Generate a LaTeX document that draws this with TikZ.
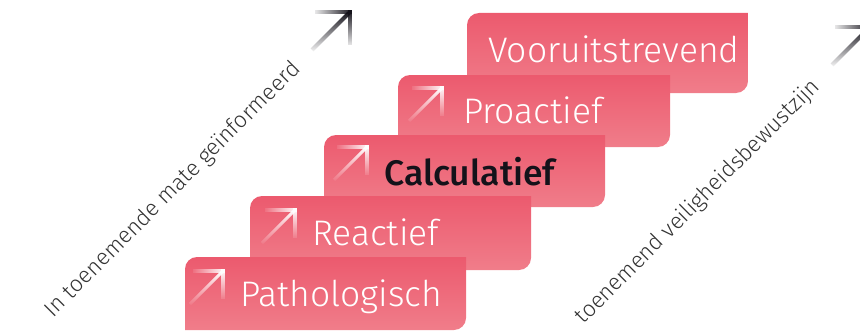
\documentclass[tikz,border=0pt]{standalone}
\usepackage{fontspec}
\setmainfont{Fira Sans Light}
\newfontfamily\vetfont{Fira Sans Medium}
\usetikzlibrary{fadings}

\definecolor{roodboven}{HTML}{EC5A6E}
\definecolor{roodonder}{HTML}{F07D8A}
\definecolor{donker}{HTML}{14121A}
\definecolor{grijs}{HTML}{333333}

\tikzfading[name=pijlh, left color=transparent!90, middle color=transparent!0, right color=transparent!0]
\tikzfading[name=pijlv, top color=transparent!0, middle color=transparent!0, bottom color=transparent!90]
\tikzfading[name=pijld, top color=transparent!0, bottom color=transparent!95]

% pijltje: hoek x, hoek y, grootte, kleur, halve dikte
\newcommand{\pijl}[5]{%
  \fill[#4, path fading=pijlh] ({#1-#3+3},{#2-#5}) rectangle ({#1+#5},{#2+#5});
  \fill[#4, path fading=pijlv] ({#1-#5},{#2-#3+5}) rectangle ({#1+#5},{#2+#5});
  \fill[#4, path fading=pijld] ({#1-#3-0.7*#5},{#2-#3+0.7*#5}) -- ({#1-1-0.7*#5},{#2-1+0.7*#5})
    -- ({#1-1+0.7*#5},{#2-1-0.7*#5}) -- ({#1-#3+0.7*#5},{#2-#3-0.7*#5}) -- cycle;
}

\begin{document}
\begin{tikzpicture}[x=1pt, y=1pt]
        \tikzstyle{trede}=[anchor=base west, inner sep=0, text=white, font=\fontsize{35.5}{40}\selectfont];
        \tikzstyle{nadruk}=[trede, text=donker, font=\fontsize{35.5}{40}\selectfont\vetfont];
        \tikzstyle{schuin}=[rotate=45, inner sep=0, text=grijs, font=\fontsize{22.5}{26}\selectfont];

        \useasboundingbox (0,0) rectangle (860,333);

        % treden, van boven naar beneden
        \foreach \n/\lx/\tp/\rx/\bt/\tx/\ty/\naam/\stijl in {
            5/467/320/748/240/488/271/Vooruitstrevend/trede,
            4/398/258/670/186/463/210/Proactief/trede,
            3/324/198/605/126/384/148/Calculatief/nadruk,
            2/250/137/531/63/312/88/Reactief/trede,
            1/185/76/466/3/240/27/Pathologisch/trede}{
          \shade[top color=roodboven, bottom color=roodonder]
            (\lx,\bt) -- (\lx,\tp-12) arc[start angle=180, end angle=90, radius=12pt]
            -- (\rx,\tp) -- (\rx,\bt+12) arc[start angle=0, end angle=-90, radius=12pt] -- cycle;
          \node[\stijl] (trede\n) at (\tx,\ty) {\naam};
        }
        \foreach \hx/\hy in {223/62, 295/123, 367/186, 442/245}{
          \pijl{\hx}{\hy}{33}{white}{1.6}
        }

        \node[schuin] (links) at (173,143) {In toenemende mate geïnformeerd};
        \node[schuin] (rechts) at (698,131) {toenemend veiligheidsbewustzijn};
        \pijl{350}{321}{38}{donker}{2.1}
        \pijl{870}{306}{38}{donker}{2.1}
    \end{tikzpicture}
\end{document}
